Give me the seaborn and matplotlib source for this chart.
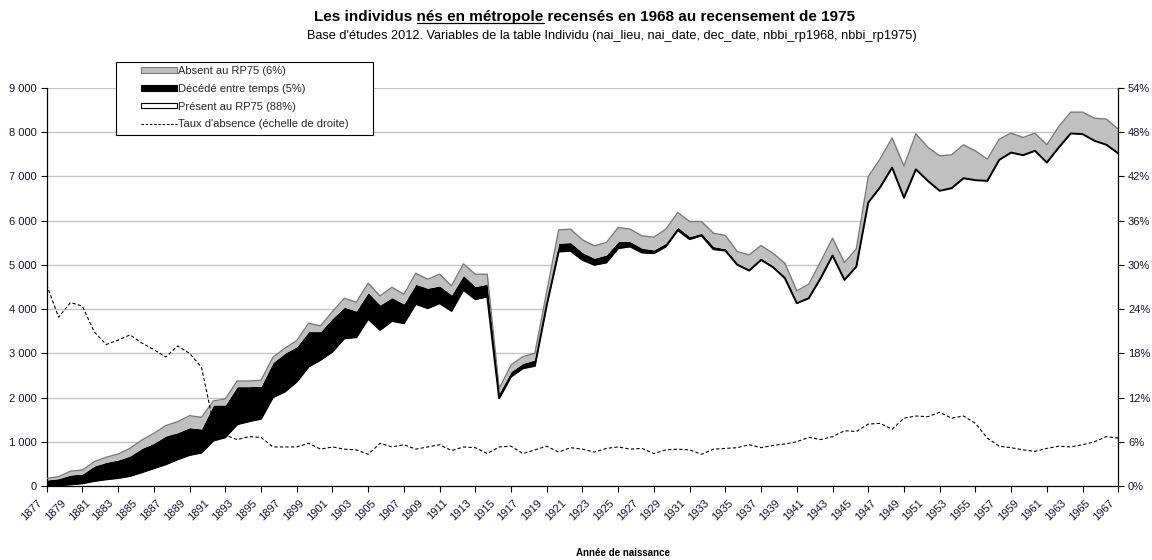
import numpy as np
import pandas as pd
import matplotlib
matplotlib.use("Agg")
import matplotlib.pyplot as plt
import matplotlib.transforms as mtransforms
import seaborn as sns
from matplotlib.patches import Patch, Rectangle
from matplotlib.lines import Line2D

# ---------------- data ----------------
years = list(range(1877, 1968))

present = [
    5, 15, 35, 60, 113, 150, 180, 226, 310, 400,
    490, 603, 700, 754, 1026, 1101, 1395, 1463, 1520, 2006,
    2134, 2360, 2700, 2851, 3039, 3341, 3363, 3778, 3529, 3733,
    3680, 4118, 4020, 4133, 3959, 4434, 4223, 4284, 1983, 2474,
    2662, 2715, 4095, 5302, 5317, 5113, 5000, 5053, 5377, 5415,
    5279, 5264, 5415, 5785, 5581, 5664, 5354, 5324, 5000, 4872,
    5113, 4947, 4698, 4133, 4246, 4698, 5210, 4661, 4962, 6410,
    6757, 7200, 6520, 7160, 6900, 6675, 6735, 6960, 6915, 6900,
    7375, 7540, 7480, 7580, 7315, 7655, 7972, 7957, 7806, 7716,
    7520,
]

deceased = [
    131, 151, 214, 211, 339, 385, 408, 453, 542, 565,
    641, 604, 620, 536, 807, 732, 852, 784, 735, 784,
    868, 792, 792, 641, 754, 701, 596, 596, 566, 528,
    438, 445, 452, 392, 362, 326, 287, 279, 114, 113,
    113, 136, 113, 188, 188, 166, 151, 173, 151, 113,
    98, 75, 75, 67, 60, 52, 61, 40, 38, 30,
    38, 30, 38, 37, 22, 38, 39, 37, 38, 23,
    22, 25, 26, 27, 23, 22, 22, 23, 23, 23,
    23, 24, 24, 22, 23, 22, 22, 22, 22, 22,
    21,
]

absent = [
    34, 45, 86, 91, 98, 115, 136, 173, 188, 225,
    234, 248, 270, 263, 90, 135, 128, 128, 135, 121,
    113, 136, 188, 128, 151, 204, 196, 211, 204, 234,
    218, 248, 204, 264, 204, 263, 279, 226, 103, 151,
    151, 151, 192, 302, 302, 287, 279, 279, 317, 279,
    279, 287, 317, 332, 339, 264, 301, 302, 264, 324,
    286, 287, 302, 242, 295, 339, 354, 355, 362, 565,
    619, 645, 694, 777, 739, 769, 732, 732, 641, 468,
    445, 415, 377, 377, 377, 453, 460, 475, 490, 558,
    528,
]

absence_rate = [
    27.3, 22.9, 24.9, 24.4, 20.9, 19.2, 19.8, 20.5, 19.4, 18.5,
    17.5, 19.0, 18.0, 16.1, 8.5, 6.9, 6.3, 6.7, 6.6, 5.3,
    5.3, 5.3, 5.8, 5.0, 5.3, 5.0, 4.9, 4.3, 5.8, 5.3,
    5.6, 5.0, 5.3, 5.6, 4.8, 5.3, 5.2, 4.4, 5.3, 5.4,
    4.4, 4.9, 5.4, 4.6, 5.2, 5.0, 4.6, 5.1, 5.3, 5.0,
    5.1, 4.4, 4.9, 5.0, 4.9, 4.3, 5.0, 5.1, 5.2, 5.6,
    5.2, 5.5, 5.7, 6.0, 6.6, 6.3, 6.7, 7.5, 7.4, 8.4,
    8.5, 7.7, 9.2, 9.5, 9.4, 10.0, 9.2, 9.5, 8.5, 6.5,
    5.4, 5.2, 4.9, 4.7, 5.1, 5.4, 5.3, 5.6, 6.0, 6.7,
    6.5,
]

series_labels = ["Absent au RP75 (6%)", "Décédé entre temps (5%)",
                 "Présent au RP75 (88%)", "Taux d'absence (échelle de droite)"]

xtick_years = list(range(1877, 1968, 2))
xtick_labels = [str(y) for y in xtick_years]
ytick_values = list(range(0, 9001, 1000))
ytick_labels = ["0", "1 000", "2 000", "3 000", "4 000", "5 000",
                "6 000", "7 000", "8 000", "9 000"]
pct_values = list(range(0, 55, 6))
pct_labels = ["0%", "6%", "12%", "18%", "24%", "30%", "36%", "42%", "48%", "54%"]

title_before = "Les individus "
title_under = "nés en métropole"
title_after = " recensés en 1968 au recensement de 1975"
subtitle = ("Base d'études 2012. Variables de la table Individu "
            "(nai_lieu, nai_date, dec_date, nbbi_rp1968, nbbi_rp1975)")
xlabel = "Année de naissance"

# ---------------- style ----------------
sns.set_theme(style="white")
plt.rcParams["font.family"] = ["Liberation Sans", "DejaVu Sans"]

W, H = 1152, 560
fig = plt.figure(figsize=(W / 100, H / 100), dpi=100)
fig.patch.set_facecolor("white")

ax = fig.add_axes([46.7 / W, 74 / H, (1118.3 - 46.7) / W, 398 / H])
ax.set_facecolor("white")

df = pd.DataFrame({"year": years, "present": present, "deceased": deceased,
                   "absent": absent, "rate": absence_rate})
df["top_present"] = df["present"]
df["top_total"] = df["present"] + df["deceased"] + df["absent"]

ax.stackplot(df["year"], df["present"], df["deceased"], df["absent"],
             colors=["white", "black", "#c0c0c0"], linewidth=0, zorder=2)

sns.lineplot(data=df, x="year", y="top_total", ax=ax, color="#7a7a7a",
             lw=1.0, zorder=3, legend=False)
sns.lineplot(data=df, x="year", y="top_present", ax=ax, color="black",
             lw=1.4, zorder=3, legend=False)

ax.set_xlim(1877, 1967)
ax.set_ylim(0, 9000)
ax.set_axisbelow(True)
ax.yaxis.grid(True, color="#c4c4c4", lw=1.0)
ax.xaxis.grid(False)
ax.set_xlabel("")
ax.set_ylabel("")

ax.set_yticks(ytick_values)
ax.set_yticklabels(ytick_labels)
ax.tick_params(axis="y", left=True, direction="out", length=4, width=0.8,
               color="black", labelsize=8, pad=3, labelcolor="#15153a")

ax.xaxis.remove_overlapping_locs = False
ax.set_xticks(list(range(1877, 1968, 3)))
ax.tick_params(axis="x", which="major", bottom=True, direction="out",
               length=4, width=0.8, color="black", labelbottom=False)
ax.set_xticks(xtick_years, minor=True)
ax.set_xticklabels(xtick_labels, minor=True, rotation=45, ha="right",
                   va="center", rotation_mode="anchor")
ax.tick_params(axis="x", which="minor", bottom=True, length=0, pad=11,
               labelsize=8, labelcolor="#15153a")
offset = mtransforms.ScaledTranslation(-6 / 100, 0, fig.dpi_scale_trans)
for lab in ax.xaxis.get_minorticklabels():
    lab.set_transform(lab.get_transform() + offset)

for s in ["top", "right"]:
    ax.spines[s].set_visible(False)
for s in ["left", "bottom"]:
    ax.spines[s].set_color("black")
    ax.spines[s].set_linewidth(0.9)

# right axis: absence rate
ax2 = ax.twinx()
sns.lineplot(data=df, x="year", y="rate", ax=ax2, color="black", lw=0.8,
             legend=False, zorder=4)
ax2.lines[-1].set_linestyle((0, (3, 2)))
ax2.set_ylim(0, 54)
ax2.set_xlim(1877, 1967)
ax2.set_yticks(pct_values)
ax2.set_yticklabels(pct_labels)
ax2.set_ylabel("")
ax2.tick_params(axis="y", right=True, direction="out", length=4, width=0.8,
                color="black", labelsize=8, pad=3, labelcolor="#15153a")
for s in ["top", "left", "bottom"]:
    ax2.spines[s].set_visible(False)
ax2.spines["right"].set_color("black")
ax2.spines["right"].set_linewidth(0.9)
ax2.grid(False)

# legend with Excel-like box
box = Rectangle((116 / W, 1 - 135 / H), (373 - 116) / W, (135 - 62) / H,
                transform=fig.transFigure, facecolor="white",
                edgecolor="black", lw=0.8, zorder=4)
fig.patches.append(box)
handles = [
    Patch(facecolor="#c0c0c0", edgecolor="#7a7a7a", lw=0.8),
    Patch(facecolor="black", edgecolor="black", lw=0.8),
    Patch(facecolor="white", edgecolor="black", lw=0.8),
    Line2D([], [], color="black", lw=0.8, linestyle=(0, (2.2, 1.6))),
]
leg = fig.legend(handles, series_labels, loc="upper left",
                 bbox_to_anchor=(141 / W, 1 - 66 / H), frameon=False,
                 fontsize=8, handlelength=3.2, handleheight=0.38,
                 handletextpad=0.1, labelspacing=0.7, borderpad=0,
                 borderaxespad=0)
leg.set_zorder(5)

# titles
TFS = 11
fig.canvas.draw()
r = fig.canvas.get_renderer()
full_title = title_before + title_under + title_after
tt = fig.text(585 / W, 1 - 17 / H, full_title, ha="center", va="center",
              fontsize=TFS, fontweight="bold", color="black")
fig.canvas.draw()
bb = tt.get_window_extent(r)


def text_width(s):
    t = fig.text(0, 0, s, fontsize=TFS, fontweight="bold")
    w = t.get_window_extent(r).width
    t.remove()
    return w


w_pre = text_width(title_before.rstrip() + " " + "x") - text_width("x")
w_mid = text_width(title_under)
x0 = bb.x0 + w_pre
y_line = bb.y0 + 1.0
fig.add_artist(Line2D([x0 / W, (x0 + w_mid) / W], [y_line / H, y_line / H],
                      transform=fig.transFigure, color="black", lw=0.9))

fig.text(612 / W, 1 - 36 / H, subtitle, ha="center", va="center",
         fontsize=9.2, color="black")
fig.text(623 / W, 1 - 553 / H, xlabel, ha="center", va="center",
         fontsize=7, fontweight="bold", color="black")

fig.savefig("out.png", dpi=100, facecolor="white")
